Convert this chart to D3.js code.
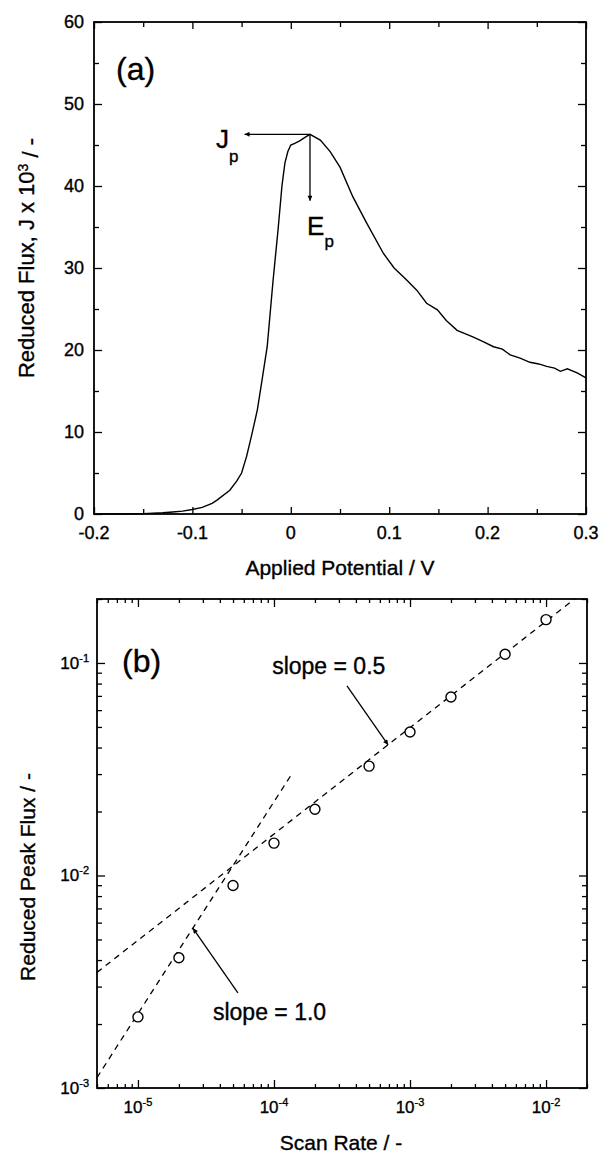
<!DOCTYPE html>
<html>
<head>
<meta charset="utf-8">
<script src="https://cdn.jsdelivr.net/npm/d3@7"></script>
<style>
  body { margin: 0; background: #fff; }
  text { font-family: "Liberation Sans", Arial, Helvetica, sans-serif; fill: #000; stroke: #000; stroke-width: 0.35px; }
</style>
</head>
<body>
<div id="fig"></div>
<script>

// ---- panel (a): reduced flux vs applied potential
var potential = [-0.2, -0.17, -0.15, -0.13, -0.12, -0.11, -0.1, -0.09, -0.08, -0.075,
  -0.062, -0.055, -0.05, -0.045, -0.04, -0.034, -0.029, -0.024, -0.018, -0.013,
  -0.009, -0.006, -0.003, 0.0, 0.004, 0.009, 0.014, 0.0195, 0.03, 0.04,
  0.05, 0.063, 0.077, 0.094, 0.105, 0.118, 0.128, 0.138, 0.149, 0.158,
  0.169, 0.185, 0.196, 0.206, 0.215, 0.223, 0.233, 0.243, 0.252, 0.26,
  0.268, 0.274, 0.281, 0.291, 0.3];
var flux = [0, 0, 0.05, 0.15, 0.25, 0.35, 0.55, 0.8, 1.3, 1.7,
  2.9, 4.0, 5.0, 7.0, 9.5, 12.7, 16.5, 20.4, 28.5, 34.6,
  40.0, 42.8, 44.2, 45.0, 45.2, 45.5, 45.9, 46.3, 45.6, 44.2,
  42.3, 38.7, 35.5, 31.8, 30.0, 28.5, 27.3, 25.7, 24.9, 23.6,
  22.4, 21.6, 21.0, 20.4, 20.1, 19.4, 19.0, 18.5, 18.3, 18.0,
  17.8, 17.4, 17.7, 17.2, 16.6];
var potTicks = [-0.2, -0.1, 0, 0.1, 0.2, 0.3];
var potMinor = [-0.15, -0.05, 0.05, 0.15, 0.25];
var fluxTicks = [0, 10, 20, 30, 40, 50, 60];
var fluxMinor = [5, 15, 25, 35, 45, 55];
var peak = {E: 0.0195, J: 46.3};

// ---- panel (b): reduced peak flux vs scan rate
var scanRate = [1e-5, 2e-5, 5e-5, 1e-4, 2e-4, 5e-4, 1e-3, 2e-3, 5e-3, 1e-2];
var peakFlux = [2.16e-3, 4.1e-3, 8.97e-3, 1.42e-2, 2.05e-2, 3.27e-2, 4.73e-2, 6.92e-2, 0.110, 0.160];
var halfLineX = [5e-6, 1.62e-2];
var halfLineY = [3.5e-3, 0.2];
var oneLineX = [5e-6, 1.35e-4];
var oneLineY = [1.12e-3, 3.0e-2];
var rateTicks = [1e-5, 1e-4, 1e-3, 1e-2];
var rateExp = ["-5", "-4", "-3", "-2"];
var peakTicks = [1e-3, 1e-2, 1e-1];
var peakExp = ["-3", "-2", "-1"];

var W = 601, H = 1156;
var svg = d3.select("#fig").append("svg")
  .attr("width", W).attr("height", H);

var defs = svg.append("defs");
defs.append("marker")
  .attr("id", "ah")
  .attr("viewBox", "0 0 10 10")
  .attr("refX", 10).attr("refY", 5)
  .attr("markerWidth", 7).attr("markerHeight", 5)
  .attr("markerUnits", "userSpaceOnUse")
  .attr("orient", "auto")
  .append("path").attr("d", "M0,0L10,5L0,10z").attr("fill", "#000");

// minor ticks helper, ticks point inwards
function ticksOn(g, axisFn, scale, vals, size) {
  g.call(axisFn(scale).tickValues(vals).tickSize(-size).tickFormat(""))
    .call(function(s) { s.select(".domain").remove(); })
    .selectAll("line").attr("stroke-width", 1.3);
}

// ================= (a) =================
var xa = d3.scaleLinear().domain([-0.2, 0.3]).range([94, 586]);
var ya = d3.scaleLinear().domain([0, 60]).range([514, 22]);

var ga = svg.append("g");

// ticks on all four sides
ticksOn(ga.append("g").attr("transform", "translate(0,514)"), d3.axisBottom, xa, potTicks, 7);
ticksOn(ga.append("g").attr("transform", "translate(0,514)"), d3.axisBottom, xa, potMinor, 5);
ticksOn(ga.append("g").attr("transform", "translate(0,22)"), d3.axisTop, xa, potTicks, 7);
ticksOn(ga.append("g").attr("transform", "translate(0,22)"), d3.axisTop, xa, potMinor, 5);
ticksOn(ga.append("g").attr("transform", "translate(94,0)"), d3.axisLeft, ya, fluxTicks, 8);
ticksOn(ga.append("g").attr("transform", "translate(94,0)"), d3.axisLeft, ya, fluxMinor, 5);
ticksOn(ga.append("g").attr("transform", "translate(586,0)"), d3.axisRight, ya, fluxTicks, 8);
ticksOn(ga.append("g").attr("transform", "translate(586,0)"), d3.axisRight, ya, fluxMinor, 5);

// tick labels
ga.selectAll(".xl").data(potTicks).enter().append("text")
  .attr("x", function(d) { return xa(d); })
  .attr("y", 539)
  .attr("text-anchor", "middle")
  .style("font-size", "18px")
  .text(function(d) { return d === 0 ? "0" : d3.format(".1f")(d).replace("−", "-"); });

ga.selectAll(".yl").data(fluxTicks).enter().append("text")
  .attr("x", 84)
  .attr("y", function(d) { return ya(d); })
  .attr("dy", "0.36em")
  .attr("text-anchor", "end")
  .style("font-size", "18px")
  .text(function(d) { return d; });

// frame
ga.append("rect")
  .attr("x", 94).attr("y", 22).attr("width", 586 - 94).attr("height", 514 - 22)
  .attr("fill", "none").attr("stroke", "#000").attr("stroke-width", 1.8);

// curve
var lineA = d3.line()
  .x(function(d, i) { return xa(potential[i]); })
  .y(function(d) { return ya(d); });
ga.append("path")
  .attr("d", lineA(flux))
  .attr("fill", "none").attr("stroke", "#000").attr("stroke-width", 1.4);

// Jp / Ep arrows
ga.append("line")
  .attr("x1", xa(peak.E)).attr("y1", ya(peak.J))
  .attr("x2", xa(-0.047)).attr("y2", ya(peak.J))
  .attr("stroke", "#000").attr("stroke-width", 1.3).attr("marker-end", "url(#ah)");
ga.append("line")
  .attr("x1", xa(peak.E)).attr("y1", ya(peak.J))
  .attr("x2", xa(peak.E)).attr("y2", ya(38.2))
  .attr("stroke", "#000").attr("stroke-width", 1.3).attr("marker-end", "url(#ah)");

var jp = ga.append("text").attr("x", xa(-0.076)).attr("y", ya(44.6)).style("font-size", "26px");
jp.append("tspan").text("J");
jp.append("tspan").attr("dy", 14).style("font-size", "17px").text("p");
var ep = ga.append("text").attr("x", xa(0.0165)).attr("y", ya(34.0)).style("font-size", "26px");
ep.append("tspan").text("E");
ep.append("tspan").attr("dy", 12).style("font-size", "17px").text("p");

ga.append("text").attr("x", 116).attr("y", 80).style("font-size", "32px").text("(a)");

// axis titles
ga.append("text")
  .attr("x", 340).attr("y", 575)
  .attr("text-anchor", "middle")
  .style("font-size", "21px")
  .text("Applied Potential / V");

var ta = ga.append("text")
  .attr("transform", "translate(26,258) rotate(-90)")
  .attr("dy", "0.36em")
  .attr("text-anchor", "middle")
  .style("font-size", "22px");
ta.append("tspan").text("Reduced Flux, J x 10");
ta.append("tspan").attr("dy", "-0.45em").style("font-size", "14px").text("3");
ta.append("tspan").attr("dy", "0.45em").text(" / -");

// ================= (b) =================
var xb = d3.scaleLog().domain([5e-6, 2e-2]).range([97, 587]);
var yb = d3.scaleLog().domain([1e-3, 0.2]).range([1088, 599]);

var gb = svg.append("g");

var rateMinor = xb.ticks().filter(function(d) { return rateTicks.indexOf(d) < 0; });
var peakMinor = yb.ticks().filter(function(d) { return peakTicks.indexOf(d) < 0; });

ticksOn(gb.append("g").attr("transform", "translate(0,1088)"), d3.axisBottom, xb, rateTicks, 8);
ticksOn(gb.append("g").attr("transform", "translate(0,1088)"), d3.axisBottom, xb, rateMinor, 4);
ticksOn(gb.append("g").attr("transform", "translate(0,599)"), d3.axisTop, xb, rateTicks, 8);
ticksOn(gb.append("g").attr("transform", "translate(0,599)"), d3.axisTop, xb, rateMinor, 4);
ticksOn(gb.append("g").attr("transform", "translate(97,0)"), d3.axisLeft, yb, peakTicks, 8);
ticksOn(gb.append("g").attr("transform", "translate(97,0)"), d3.axisLeft, yb, peakMinor, 5);
ticksOn(gb.append("g").attr("transform", "translate(587,0)"), d3.axisRight, yb, peakTicks, 8);
ticksOn(gb.append("g").attr("transform", "translate(587,0)"), d3.axisRight, yb, peakMinor, 5);

// power-of-ten labels
rateTicks.forEach(function(d, i) {
  var t = gb.append("text")
    .attr("x", xb(d)).attr("y", 1113)
    .attr("text-anchor", "middle")
    .style("font-size", "17px");
  t.append("tspan").text("10");
  t.append("tspan").attr("dy", -7).style("font-size", "11px").text(rateExp[i]);
});
peakTicks.forEach(function(d, i) {
  var t = gb.append("text")
    .attr("x", 89).attr("y", yb(d) + 6)
    .attr("text-anchor", "end")
    .style("font-size", "17px");
  t.append("tspan").text("10");
  t.append("tspan").attr("dy", -7).style("font-size", "11px").text(peakExp[i]);
});

gb.append("rect")
  .attr("x", 97).attr("y", 599).attr("width", 587 - 97).attr("height", 1088 - 599)
  .attr("fill", "none").attr("stroke", "#000").attr("stroke-width", 1.8);

// fitted slopes
var lineB = d3.line()
  .x(function(d) { return xb(d[0]); })
  .y(function(d) { return yb(d[1]); });
gb.append("path")
  .attr("d", lineB(d3.zip(halfLineX, halfLineY)))
  .attr("fill", "none").attr("stroke", "#000").attr("stroke-width", 1.3)
  .attr("stroke-dasharray", "6,5");
gb.append("path")
  .attr("d", lineB(d3.zip(oneLineX, oneLineY)))
  .attr("fill", "none").attr("stroke", "#000").attr("stroke-width", 1.3)
  .attr("stroke-dasharray", "6,5");

// measured peaks
gb.selectAll(".pt").data(scanRate).enter().append("circle")
  .attr("cx", function(d) { return xb(d); })
  .attr("cy", function(d, i) { return yb(peakFlux[i]); })
  .attr("r", 5)
  .attr("fill", "#fff").attr("stroke", "#000").attr("stroke-width", 1.4);

// slope annotations
gb.append("line")
  .attr("x1", xb(3.44e-4)).attr("y1", yb(0.078))
  .attr("x2", xb(6.9e-4)).attr("y2", yb(0.0412))
  .attr("stroke", "#000").attr("stroke-width", 1.3).attr("marker-end", "url(#ah)");
gb.append("text")
  .attr("x", xb(9.7e-5)).attr("y", yb(0.0887))
  .style("font-size", "23px")
  .text("slope = 0.5");

gb.append("line")
  .attr("x1", xb(5.43e-5)).attr("y1", yb(2.8e-3))
  .attr("x2", xb(2.54e-5)).attr("y2", yb(5.64e-3))
  .attr("stroke", "#000").attr("stroke-width", 1.3).attr("marker-end", "url(#ah)");
gb.append("text")
  .attr("x", xb(3.56e-5)).attr("y", yb(2.09e-3))
  .style("font-size", "23px")
  .text("slope = 1.0");

gb.append("text").attr("x", 122).attr("y", 672).style("font-size", "32px").text("(b)");

gb.append("text")
  .attr("x", 341).attr("y", 1150)
  .attr("text-anchor", "middle")
  .style("font-size", "21px")
  .text("Scan Rate / -");

gb.append("text")
  .attr("transform", "translate(27,877) rotate(-90)")
  .attr("dy", "0.36em")
  .attr("text-anchor", "middle")
  .style("font-size", "21px")
  .text("Reduced Peak Flux / -");

</script>
</body>
</html>
